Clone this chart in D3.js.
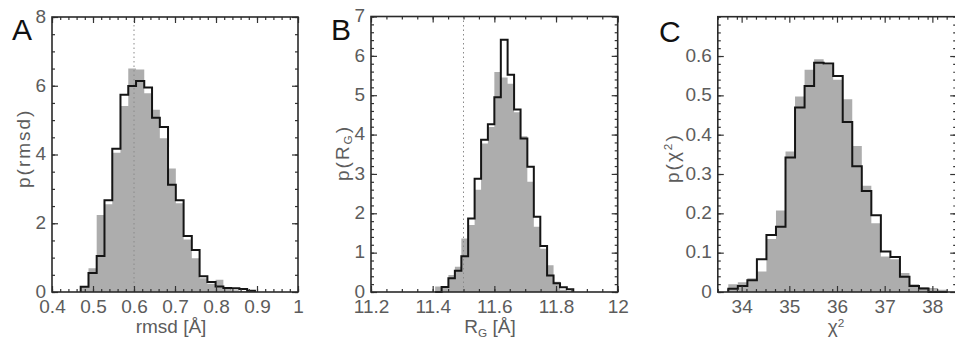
<!DOCTYPE html>
<html>
<head>
<meta charset="utf-8">
<script src="https://cdn.jsdelivr.net/npm/d3@7"></script>
<style>
  body { margin: 0; background: #fff; }
  svg { display: block; }
  .tick text { font-family: 'Liberation Sans', Arial, sans-serif; font-size: 19px; fill: #5c5c5c; }
  .title { font-family: 'Liberation Sans', Arial, sans-serif; font-size: 19px; fill: #5c5c5c; }
  .letter { font-family: 'Liberation Sans', Arial, sans-serif; font-size: 30px; fill: #111; }
</style>
</head>
<body>
<svg id="chart" width="955" height="341"></svg>
<script>
// ---- panel A: rmsd ----
var rmsdEdges = [0.470, 0.489, 0.509, 0.528, 0.547, 0.567, 0.586, 0.605, 0.625, 0.644, 0.663, 0.683,
  0.702, 0.721, 0.741, 0.760, 0.779, 0.799, 0.818, 0.837, 0.857, 0.876, 0.895];
var rmsdGray = [0.15, 0.69, 2.24, 2.55, 4.05, 5.41, 6.50, 6.47, 5.78, 5.30, 4.47, 3.59,
  2.58, 1.53, 0.98, 0.40, 0.24, 0.36, 0.12, 0.05, 0.03, 0.02];
var rmsdLine = [0.155, 0.55, 1.05, 2.67, 4.17, 5.74, 5.99, 6.14, 5.95, 5.07, 4.80, 3.12,
  2.67, 1.63, 1.22, 0.46, 0.29, 0.16, 0.12, 0.11, 0.09, 0.04];
var rmsdXTicks = [0.4, 0.5, 0.6, 0.7, 0.8, 0.9, 1];
var rmsdYTicks = [0, 2, 4, 6, 8];

// ---- panel B: radius of gyration ----
var rgEdges = [11.408, 11.429, 11.451, 11.472, 11.493, 11.515, 11.536, 11.557, 11.579, 11.600, 11.621,
  11.643, 11.664, 11.685, 11.707, 11.728, 11.749, 11.771, 11.792, 11.813, 11.835, 11.856];
var rgGray = [0.14, 0.12, 0.43, 0.64, 1.36, 1.70, 2.60, 3.77, 4.19, 5.59, 5.45,
  5.29, 4.57, 3.96, 2.80, 1.66, 1.10, 0.68, 0.26, 0.06, 0.02];
var rgLine = [0, 0.13, 0.35, 0.54, 0.91, 1.87, 2.88, 3.87, 4.26, 4.95, 6.41,
  5.52, 4.64, 3.90, 3.18, 1.91, 1.17, 0.42, 0.22, 0.12, 0.07];
var rgXTicks = [11.2, 11.4, 11.6, 11.8, 12];
var rgYTicks = [0, 1, 2, 3, 4, 5, 6, 7];

// ---- panel C: chi^2 ----
var chiEdges = [33.72, 33.92, 34.12, 34.32, 34.52, 34.72, 34.92, 35.12, 35.32, 35.52, 35.72, 35.92,
  36.12, 36.32, 36.52, 36.72, 36.92, 37.12, 37.32, 37.52, 37.72, 37.92, 38.12, 38.32];
var chiGray = [0.02, 0.025, 0.035, 0.052, 0.135, 0.207, 0.357, 0.497, 0.565, 0.592, 0.578, 0.54,
  0.49, 0.371, 0.27, 0.175, 0.09, 0.083, 0.048, 0.02, 0.012, 0.01, 0.006];
var chiLine = [0.008, 0.015, 0.03, 0.083, 0.145, 0.166, 0.342, 0.469, 0.524, 0.583, 0.581, 0.549,
  0.432, 0.32, 0.257, 0.195, 0.103, 0.089, 0.039, 0.015, 0.009, 0, 0];
var chiXTicks = [34, 35, 36, 37, 38];
var chiYTicks = [0, 0.1, 0.2, 0.3, 0.4, 0.5, 0.6];

var svg = d3.select('#chart');

var panels = [
  { letter: 'A', edges: rmsdEdges, gray: rmsdGray, line: rmsdLine,
    xDom: [0.4, 1], xRange: [52, 298], yDom: [0, 8], yRange: [292, 17],
    xTicks: rmsdXTicks, yTicks: rmsdYTicks, xMinor: 0.02, yMinor: 0.5, marker: 0.6,
    xTitle: 'rmsd [Å]', xTitleX: 171, yTitle: 'p(rmsd)', yTitleX: 23, yTitleY: 188, letterX: 12, letterY: 40 },
  { letter: 'B', edges: rgEdges, gray: rgGray, line: rgLine,
    xDom: [11.2, 12], xRange: [371, 617.7], yDom: [0, 7], yRange: [292, 16.5],
    xTicks: rgXTicks, yTicks: rgYTicks, xMinor: 0.05, yMinor: 0.2, marker: 11.5,
    xTitle: 'R_G [Å]', xTitleX: 490, yTitle: 'p(R_G)', yTitleX: 342, yTitleY: 181, letterX: 331, letterY: 40 },
  { letter: 'C', edges: chiEdges, gray: chiGray, line: chiLine,
    xDom: [33.5, 38.5], xRange: [717.8, 956.2], yDom: [0, 0.7], yRange: [292, 16.7],
    xTicks: chiXTicks, yTicks: chiYTicks, xMinor: 0.2, yMinor: 0.02, marker: null,
    xTitle: 'χ^2', xTitleX: 836, yTitle: 'p(χ^2)', yTitleX: 672, yTitleY: 183, letterX: 659, letterY: 42 }
];

// writes "base_sub" / "base^sup" markup into a text element
function richText(sel, str) {
  var parts = str.split(/([_^][A-Z0-9])/).filter(function (s) { return s !== ''; });
  var reset = null;
  parts.forEach(function (p) {
    if (p[0] === '_' || p[0] === '^') {
      var shift = p[0] === '_' ? 0.3 : -0.55;
      sel.append('tspan').attr('font-size', '0.62em').attr('dy', shift + 'em').text(p[1]);
      // next span returns to the baseline (in parent em units)
      reset = (-shift * 0.62) + 'em';
    } else {
      var t = sel.append('tspan').text(p);
      if (reset !== null) t.attr('dy', reset);
      reset = null;
    }
  });
}

panels.forEach(function (p) {
  var x = d3.scaleLinear().domain(p.xDom).range(p.xRange);
  var y = d3.scaleLinear().domain(p.yDom).range(p.yRange);
  var g = svg.append('g');

  // step points (edge_i, value_i) closed on last edge
  function stepPts(vals) {
    var pts = p.edges.slice(0, vals.length).map(function (e, i) { return [e, vals[i]]; });
    pts.push([p.edges[vals.length], vals[vals.length - 1]]);
    return pts;
  }

  var area = d3.area().curve(d3.curveStepAfter)
    .x(function (d) { return x(d[0]); })
    .y0(y(0))
    .y1(function (d) { return y(d[1]); });

  g.append('path')
    .attr('d', area(stepPts(p.gray)))
    .attr('fill', '#adadad');

  if (p.marker !== null) {
    g.append('line')
      .attr('x1', x(p.marker)).attr('x2', x(p.marker))
      .attr('y1', y(p.yDom[0])).attr('y2', y(p.yDom[1]))
      .attr('stroke', '#8a8a8a').attr('stroke-width', 1)
      .attr('stroke-dasharray', '1.5,3');
  }

  var linePts = [[p.edges[0], 0]].concat(stepPts(p.line).slice(0, p.line.length));
  linePts.push([p.edges[p.line.length], 0]);
  var line = d3.line().curve(d3.curveStepAfter)
    .x(function (d) { return x(d[0]); })
    .y(function (d) { return y(d[1]); });

  g.append('path')
    .attr('d', line(linePts))
    .attr('fill', 'none')
    .attr('stroke', '#151515')
    .attr('stroke-width', 2);

  /* ===== AXES ===== */
  var xMinorTicks = d3.range(p.xDom[0], p.xDom[1] + 1e-9, p.xMinor);
  var yMinorTicks = d3.range(p.yDom[0], p.yDom[1] + 1e-9, p.yMinor);
  var y0 = p.yRange[0], y1 = p.yRange[1], x0 = p.xRange[0], x1 = p.xRange[1];

  function fmt(d) { return d3.format('~g')(d); }

  g.append('g').attr('transform', 'translate(0,' + y0 + ')')
    .call(d3.axisBottom(x).tickValues(xMinorTicks).tickSize(-3).tickSizeOuter(0).tickFormat(''));
  g.append('g').attr('transform', 'translate(0,' + y0 + ')')
    .call(d3.axisBottom(x).tickValues(p.xTicks).tickSize(-6).tickSizeOuter(0).tickPadding(8).tickFormat(fmt));
  g.append('g').attr('transform', 'translate(0,' + y1 + ')')
    .call(d3.axisTop(x).tickValues(xMinorTicks).tickSize(-3).tickSizeOuter(0).tickFormat(''));
  g.append('g').attr('transform', 'translate(0,' + y1 + ')')
    .call(d3.axisTop(x).tickValues(p.xTicks).tickSize(-6).tickSizeOuter(0).tickFormat(''));

  g.append('g').attr('transform', 'translate(' + x0 + ',0)')
    .call(d3.axisLeft(y).tickValues(yMinorTicks).tickSize(-3).tickSizeOuter(0).tickFormat(''));
  g.append('g').attr('transform', 'translate(' + x0 + ',0)')
    .call(d3.axisLeft(y).tickValues(p.yTicks).tickSize(-6).tickSizeOuter(0).tickPadding(6).tickFormat(fmt))
    .selectAll('text').attr('dy', '0.28em');
  g.append('g').attr('transform', 'translate(' + x1 + ',0)')
    .call(d3.axisRight(y).tickValues(yMinorTicks).tickSize(-3).tickSizeOuter(0).tickFormat(''));
  g.append('g').attr('transform', 'translate(' + x1 + ',0)')
    .call(d3.axisRight(y).tickValues(p.yTicks).tickSize(-6).tickSizeOuter(0).tickFormat(''));

  g.selectAll('.domain').remove();
  g.selectAll('.tick line').attr('stroke', '#333').attr('stroke-width', 1.2);

  g.append('rect')
    .attr('x', x0).attr('y', y1)
    .attr('width', x1 - x0).attr('height', y0 - y1)
    .attr('fill', 'none').attr('stroke', '#2a2a2a').attr('stroke-width', 1.6);

  /* ===== TITLES ===== */
  var xt = g.append('text').attr('class', 'title')
    .attr('x', p.xTitleX)
    .attr('y', 333)
    .attr('text-anchor', 'middle');
  richText(xt, p.xTitle);

  var yt = g.append('text').attr('class', 'title')
    .attr('transform', 'translate(' + p.yTitleX + ',' + p.yTitleY + ') rotate(-90)')
    .attr('text-anchor', 'start')
    .attr('dy', '0.35em')
    .attr('letter-spacing', '2px');
  richText(yt, p.yTitle);

  g.append('text').attr('class', 'letter')
    .attr('x', p.letterX).attr('y', p.letterY)
    .text(p.letter);
});
</script>
</body>
</html>
